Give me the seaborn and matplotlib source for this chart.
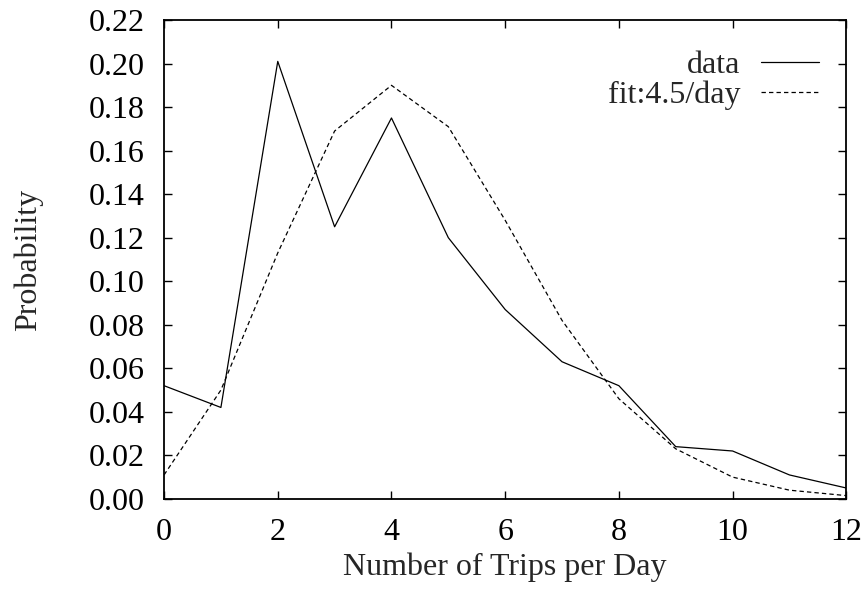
import pandas as pd
import matplotlib
matplotlib.use("Agg")
import matplotlib.pyplot as plt
import seaborn as sns

# values
trips = [0, 1, 2, 3, 4, 5, 6, 7, 8, 9, 10, 11, 12]
data_prob = [0.052, 0.042, 0.201, 0.125, 0.175, 0.120, 0.087, 0.063, 0.052, 0.024, 0.022, 0.011, 0.005]
fit_prob = [0.011, 0.050, 0.113, 0.169, 0.190, 0.171, 0.128, 0.082, 0.046, 0.023, 0.010, 0.004, 0.0015]
series_names = ["data", "fit:4.5/day"]
y_ticks = [0.00, 0.02, 0.04, 0.06, 0.08, 0.10, 0.12, 0.14, 0.16, 0.18, 0.20, 0.22]
x_ticks = [0, 2, 4, 6, 8, 10, 12]

sns.set_theme(style="ticks")
plt.rcParams['font.family'] = ['Liberation Serif', 'DejaVu Serif']

df = pd.DataFrame({
    'trips': trips * 2,
    'prob': data_prob + fit_prob,
    'series': [series_names[0]] * len(trips) + [series_names[1]] * len(trips),
})

fig = plt.figure(figsize=(8.68, 5.89), dpi=100)
ax = fig.add_axes([0.189, 0.153, 0.786, 0.813])

sns.lineplot(data=df, x='trips', y='prob', hue='series', style='series',
             palette=['black', 'black'],
             dashes={series_names[0]: '', series_names[1]: (3.5, 2.5)},
             linewidth=0.9, ax=ax, legend=True)

fs = 23
ax.set_xlim(0, 12)
ax.set_ylim(0, 0.22)
ax.set_xticks(x_ticks)
ax.set_yticks(y_ticks)
ax.set_yticklabels([f"{v:.2f}" for v in y_ticks])
ax.tick_params(direction='in', length=6, width=1.0, labelsize=fs,
               top=True, right=True, colors='black')
ax.tick_params(axis='y', pad=14)
ax.tick_params(axis='x', pad=14)
ax.set_xlabel('Number of Trips per Day', fontsize=fs, labelpad=4)
ax.set_ylabel('Probability', fontsize=fs, labelpad=33)
for s in ax.spines.values():
    s.set_linewidth(1.3)
    s.set_color('black')

leg = ax.legend(loc='upper right', bbox_to_anchor=(0.978, 0.962), frameon=False,
                markerfirst=False, fontsize=fs, handlelength=1.8,
                handletextpad=0.65, labelspacing=0.0, borderaxespad=0)
for t in leg.get_texts():
    t.set_ha('right')

fig.savefig('out.png', dpi=100)
